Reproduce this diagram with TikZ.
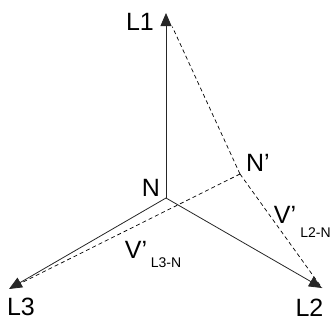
\documentclass[tikz,border=0pt]{standalone}
\usepackage{fontspec}
\setmainfont{Liberation Sans}
\usetikzlibrary{arrows.meta}
\begin{document}
\begin{tikzpicture}[x=1bp,y=-1bp,
  phase/.style={line width=0.8bp,draw=black!85,-{Triangle[length=13bp,width=11bp]}},
  shifted/.style={line width=0.7bp,dash pattern=on 4bp off 3bp},
  big/.style={inner sep=0pt,font=\fontsize{25bp}{25bp}\selectfont},
  small/.style={inner sep=0pt,font=\fontsize{14bp}{14bp}\selectfont}]
\useasboundingbox (0,0) rectangle (333,323);
\coordinate (N) at (166,198);
\coordinate (L1) at (166,13);
\coordinate (L2) at (322,288);
\coordinate (L3) at (9,289);
\coordinate (Np) at (240,174);
\draw[shifted,shorten >=15bp] (Np) -- (L1);
\draw[shifted] (Np) -- (L2);
\draw[shifted] (Np) -- (L3);
\draw[phase] (N) -- (L1);
\draw[phase] (N) -- (L2);
\draw[phase] (N) -- (L3);
\node[big] (tL1) at (140,22) {L1};
\node[big] (tN) at (151,188) {N};
\node[big] (tNp) at (258,163) {N’};
\node[big] (tV2) at (285,215) {V’};
\node[small] (tS2) at (315.5,232.5) {L2-N};
\node[big] (tV3) at (136,250) {V’};
\node[small] (tS3) at (166,263) {L3-N};
\node[big] (tL3) at (21,307) {L3};
\node[big] (tL2) at (309.5,307.5) {L2};
\end{tikzpicture}
\end{document}
